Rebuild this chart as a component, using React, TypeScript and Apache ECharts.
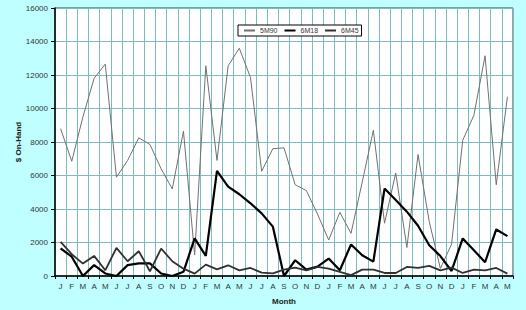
import React, { useEffect, useRef } from "react";
import * as echarts from "echarts";

const months = [
  "J", "F", "M", "A", "M", "J", "J", "A", "S", "O", "N", "D",
  "J", "F", "M", "A", "M", "J", "J", "A", "S", "O", "N", "D",
  "J", "F", "M", "A", "M", "J", "J", "A", "S", "O", "N", "D",
  "J", "F", "M", "A", "M",
];

const s5M90 = [
  8800, 6850, 9500, 11800, 12650, 5900, 6900, 8250, 7850, 6400, 5200, 8650,
  1250, 12550, 6900, 12550, 13600, 11850, 6250, 7600, 7650, 5450, 5100, 3700,
  2150, 3800, 2550, 5600, 8700, 3150, 6150, 1700, 7250, 3250, 450, 1900,
  8100, 9600, 13150, 5450, 10700,
];

const s6M18 = [
  1650, 1150, 0, 650, 150, 0, 650, 750, 750, 150, 0, 250,
  2250, 1200, 6280, 5340, 4880, 4340, 3740, 2950, 0, 940, 380, 560,
  1040, 340, 1880, 1240, 860, 5220, 4540, 3840, 3000, 1840, 1190, 300,
  2240, 1540, 820, 2780, 2380,
];

const s6M45 = [
  2040, 1300, 740, 1200, 340, 1680, 880, 1480, 280, 1640, 880, 440,
  140, 680, 400, 640, 340, 480, 200, 160, 380, 500, 340, 540,
  440, 240, 50, 380, 380, 180, 180, 540, 480, 600, 340, 500,
  180, 380, 340, 480, 140,
];

const FONT = "Liberation Sans";

export default function App() {
  const ref = useRef<HTMLDivElement>(null);
  useEffect(() => {
    if (!ref.current) return;
    const chart = echarts.init(ref.current, null, { renderer: "svg" });
    chart.setOption({
      animation: false,
      backgroundColor: "#c0ffff",
      textStyle: { fontFamily: FONT },
      grid: {
        left: 55,
        top: 8,
        right: 13,
        bottom: 34,
        show: true,
        backgroundColor: "#ffffff",
        borderColor: "#404040",
        borderWidth: 1,
      },
      legend: {
        left: 238,
        top: 25,
        orient: "horizontal",
        itemWidth: 11,
        itemHeight: 8,
        itemGap: 6,
        backgroundColor: "#ffffff",
        borderColor: "#000000",
        borderWidth: 1,
        borderRadius: 0,
        padding: [2, 3, 2, 5],
        itemStyle: { color: "transparent", borderColor: "transparent", borderWidth: 0, opacity: 0 },
        textStyle: { fontSize: 7, color: "#333", fontFamily: FONT },
        data: ["5M90", "6M18", "6M45"],
      },
      xAxis: {
        type: "category",
        data: months,
        boundaryGap: true,
        name: "Month",
        nameLocation: "middle",
        nameGap: 21,
        nameMoveOverlap: false,
        nameTextStyle: { fontSize: 8, fontWeight: "bold", color: "#222", fontFamily: FONT },
        axisLine: { show: true, lineStyle: { color: "#000", width: 1.5 } },
        axisTick: { show: true, interval: 0, length: 3, lineStyle: { color: "#000" } },
        axisLabel: { interval: 0, fontSize: 8, color: "#333", margin: 6, fontFamily: FONT },
        splitLine: { show: true, interval: 0, lineStyle: { color: "#7cbcbc", width: 1 } },
      },
      yAxis: {
        type: "value",
        min: 0,
        max: 16000,
        interval: 2000,
        name: "$ On-Hand",
        nameLocation: "middle",
        nameGap: 33,
        nameMoveOverlap: false,
        nameTextStyle: { fontSize: 8, fontWeight: "bold", color: "#222", fontFamily: FONT },
        axisLine: { show: true, lineStyle: { color: "#000", width: 1.5 } },
        axisTick: { show: true, length: 4, lineStyle: { color: "#000" } },
        axisLabel: {
          fontSize: 8,
          color: "#333",
          margin: 7,
          fontFamily: FONT,
          formatter: (v: number) => String(v),
        },
        splitLine: { show: true, lineStyle: { color: "#7cbcbc", width: 1 } },
      },
      series: [
        {
          name: "5M90",
          type: "line",
          data: s5M90,
          symbol: "none",
          lineStyle: { color: "#707070", width: 1 },
          itemStyle: { color: "#707070" },
        },
        {
          name: "6M18",
          type: "line",
          data: s6M18,
          symbol: "none",
          lineStyle: { color: "#000000", width: 2.2 },
          itemStyle: { color: "#000000" },
        },
        {
          name: "6M45",
          type: "line",
          data: s6M45,
          symbol: "none",
          lineStyle: { color: "#303030", width: 1.8 },
          itemStyle: { color: "#303030" },
        },
      ],
    });
    return () => chart.dispose();
  }, []);
  return (
    <div
      ref={ref}
      style={{ position: "absolute", left: 0, top: 0, width: 526, height: 310 }}
    />
  );
}
